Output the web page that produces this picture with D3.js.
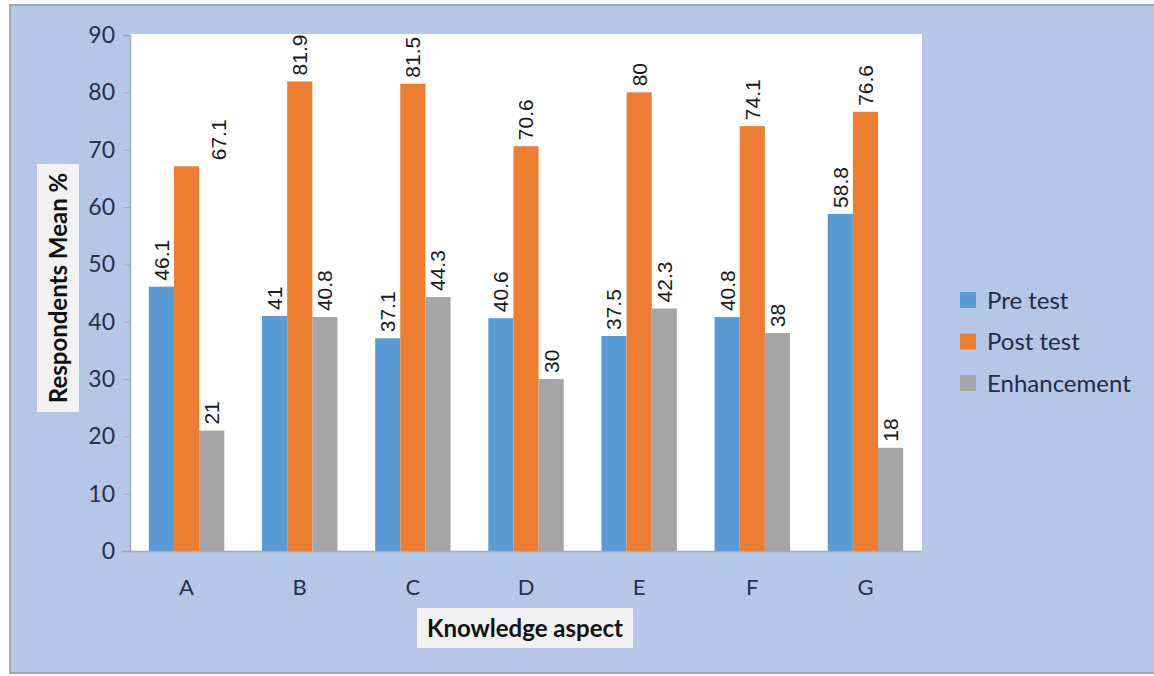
<!DOCTYPE html>
<html>
<head>
<meta charset="utf-8">
<script src="https://cdn.jsdelivr.net/npm/d3@7"></script>
<style>
  html, body { margin: 0; padding: 0; background: #ffffff; }
  svg { display: block; }
</style>
</head>
<body>
<svg id="chart" width="1154" height="676"></svg>
<script>
// Knowledge aspects and the three measured series (respondents' mean %)
const aspects = ["A", "B", "C", "D", "E", "F", "G"];
const seriesNames = ["Pre test", "Post test", "Enhancement"];
const preTest = [46.1, 41, 37.1, 40.6, 37.5, 40.8, 58.8];
const postTest = [67.1, 81.9, 81.5, 70.6, 80, 74.1, 76.6];
const enhancement = [21, 40.8, 44.3, 30, 42.3, 38, 18];
const yTicks = [0, 10, 20, 30, 40, 50, 60, 70, 80, 90];

const seriesValues = [preTest, postTest, enhancement];
const colors = ["#5b9bd5", "#ed7d31", "#a5a5a5"];

const svg = d3.select("#chart");
const W = 1154, H = 676;
const plot = { left: 130, right: 922, top: 34, bottom: 551 };
const uiFont = "Lato, 'Open Sans', sans-serif";
const labelFont = "'Liberation Sans', Arial, sans-serif";
const axisTextColor = "#243050";

// chart background panel
svg.append("rect").attr("x", 0).attr("y", 0).attr("width", W).attr("height", H).attr("fill", "#ffffff");
svg.append("rect")
  .attr("x", 10).attr("y", 5).attr("width", W - 8).attr("height", 668)
  .attr("fill", "#b4c7e7").attr("stroke", "#9ea7b8").attr("stroke-width", 2);

// plot area
svg.append("rect")
  .attr("x", plot.left).attr("y", plot.top)
  .attr("width", plot.right - plot.left).attr("height", plot.bottom - plot.top)
  .attr("fill", "#ffffff");

const x0 = d3.scaleBand().domain(aspects).range([plot.left, plot.right]).paddingInner(0).paddingOuter(0);
const x1 = d3.scaleBand().domain(seriesNames).range([0, x0.bandwidth()]).paddingInner(0).paddingOuter(0.75);
const y = d3.scaleLinear().domain([0, 90]).range([plot.bottom, plot.top + 1]);

// rows of (aspect, series, value)
const rows = [];
aspects.forEach((a, i) => {
  seriesNames.forEach((s, j) => rows.push({ aspect: a, series: s, si: j, value: seriesValues[j][i] }));
});

// bars
svg.append("g").selectAll("rect").data(rows).join("rect")
  .attr("x", d => x0(d.aspect) + x1(d.series))
  .attr("y", d => y(d.value))
  .attr("width", x1.bandwidth())
  .attr("height", d => y(0) - y(d.value))
  .attr("fill", d => colors[d.si]);

// value labels, rotated; the A post-test label sits to the side of its bar
const labelShift = { "A|Post test": 32 };
svg.append("g").selectAll("text").data(rows).join("text")
  .attr("transform", d => {
    const cx = x0(d.aspect) + x1(d.series) + x1.bandwidth() / 2 + (labelShift[d.aspect + "|" + d.series] || 0);
    const cy = y(d.value) - 6;
    return `translate(${cx},${cy}) rotate(-90)`;
  })
  .attr("dy", "0.35em")
  .attr("text-anchor", "start")
  .attr("font-family", labelFont)
  .attr("font-size", 21)
  .attr("fill", "#1a1a1a")
  .text(d => d.value);

// y axis
const yAxis = svg.append("g")
  .attr("transform", `translate(${plot.left},0)`)
  .call(d3.axisLeft(y).tickValues(yTicks).tickSize(7).tickPadding(8));
yAxis.select(".domain").attr("stroke", "#a6abb5").attr("stroke-width", 1.5);
yAxis.selectAll(".tick line").attr("stroke", "#a6abb5");
yAxis.selectAll(".tick text")
  .attr("font-family", uiFont).attr("font-size", 23).attr("fill", axisTextColor);

// x axis
const xAxis = svg.append("g")
  .attr("transform", `translate(0,${plot.bottom})`)
  .call(d3.axisBottom(x0).tickSize(0).tickPadding(28));
xAxis.select(".domain").attr("stroke", "#a6abb5").attr("stroke-width", 1.5)
  .attr("d", `M${plot.left - 8},0.5H${plot.right}`);
xAxis.selectAll(".tick text")
  .attr("font-family", uiFont).attr("font-size", 22).attr("fill", axisTextColor);

// axis titles in light boxes
const yTitle = svg.append("g").attr("transform", "translate(58,288) rotate(-90)");
yTitle.append("rect").attr("x", -124).attr("y", -21).attr("width", 248).attr("height", 42).attr("fill", "#f2f2f2");
yTitle.append("text").attr("text-anchor", "middle").attr("dy", "0.36em")
  .attr("font-family", uiFont).attr("font-weight", "bold").attr("font-size", 24).attr("fill", "#111")
  .text("Respondents Mean %");

const xTitle = svg.append("g").attr("transform", "translate(525,628)");
xTitle.append("rect").attr("x", -108).attr("y", -20).attr("width", 216).attr("height", 40).attr("fill", "#f2f2f2");
xTitle.append("text").attr("text-anchor", "middle").attr("dy", "0.36em")
  .attr("font-family", uiFont).attr("font-weight", "bold").attr("font-size", 24).attr("fill", "#111")
  .text("Knowledge aspect");

// legend
const legend = svg.append("g").attr("transform", "translate(960,300)");
seriesNames.forEach((s, i) => {
  const g = legend.append("g").attr("transform", `translate(0,${i * 41.5})`);
  g.append("rect").attr("x", 0).attr("y", -8).attr("width", 16).attr("height", 16).attr("fill", colors[i]);
  g.append("text").attr("x", 27).attr("dy", "0.36em")
    .attr("font-family", uiFont).attr("font-size", 24).attr("fill", "#1f2b48")
    .text(s);
});
</script>
</body>
</html>
